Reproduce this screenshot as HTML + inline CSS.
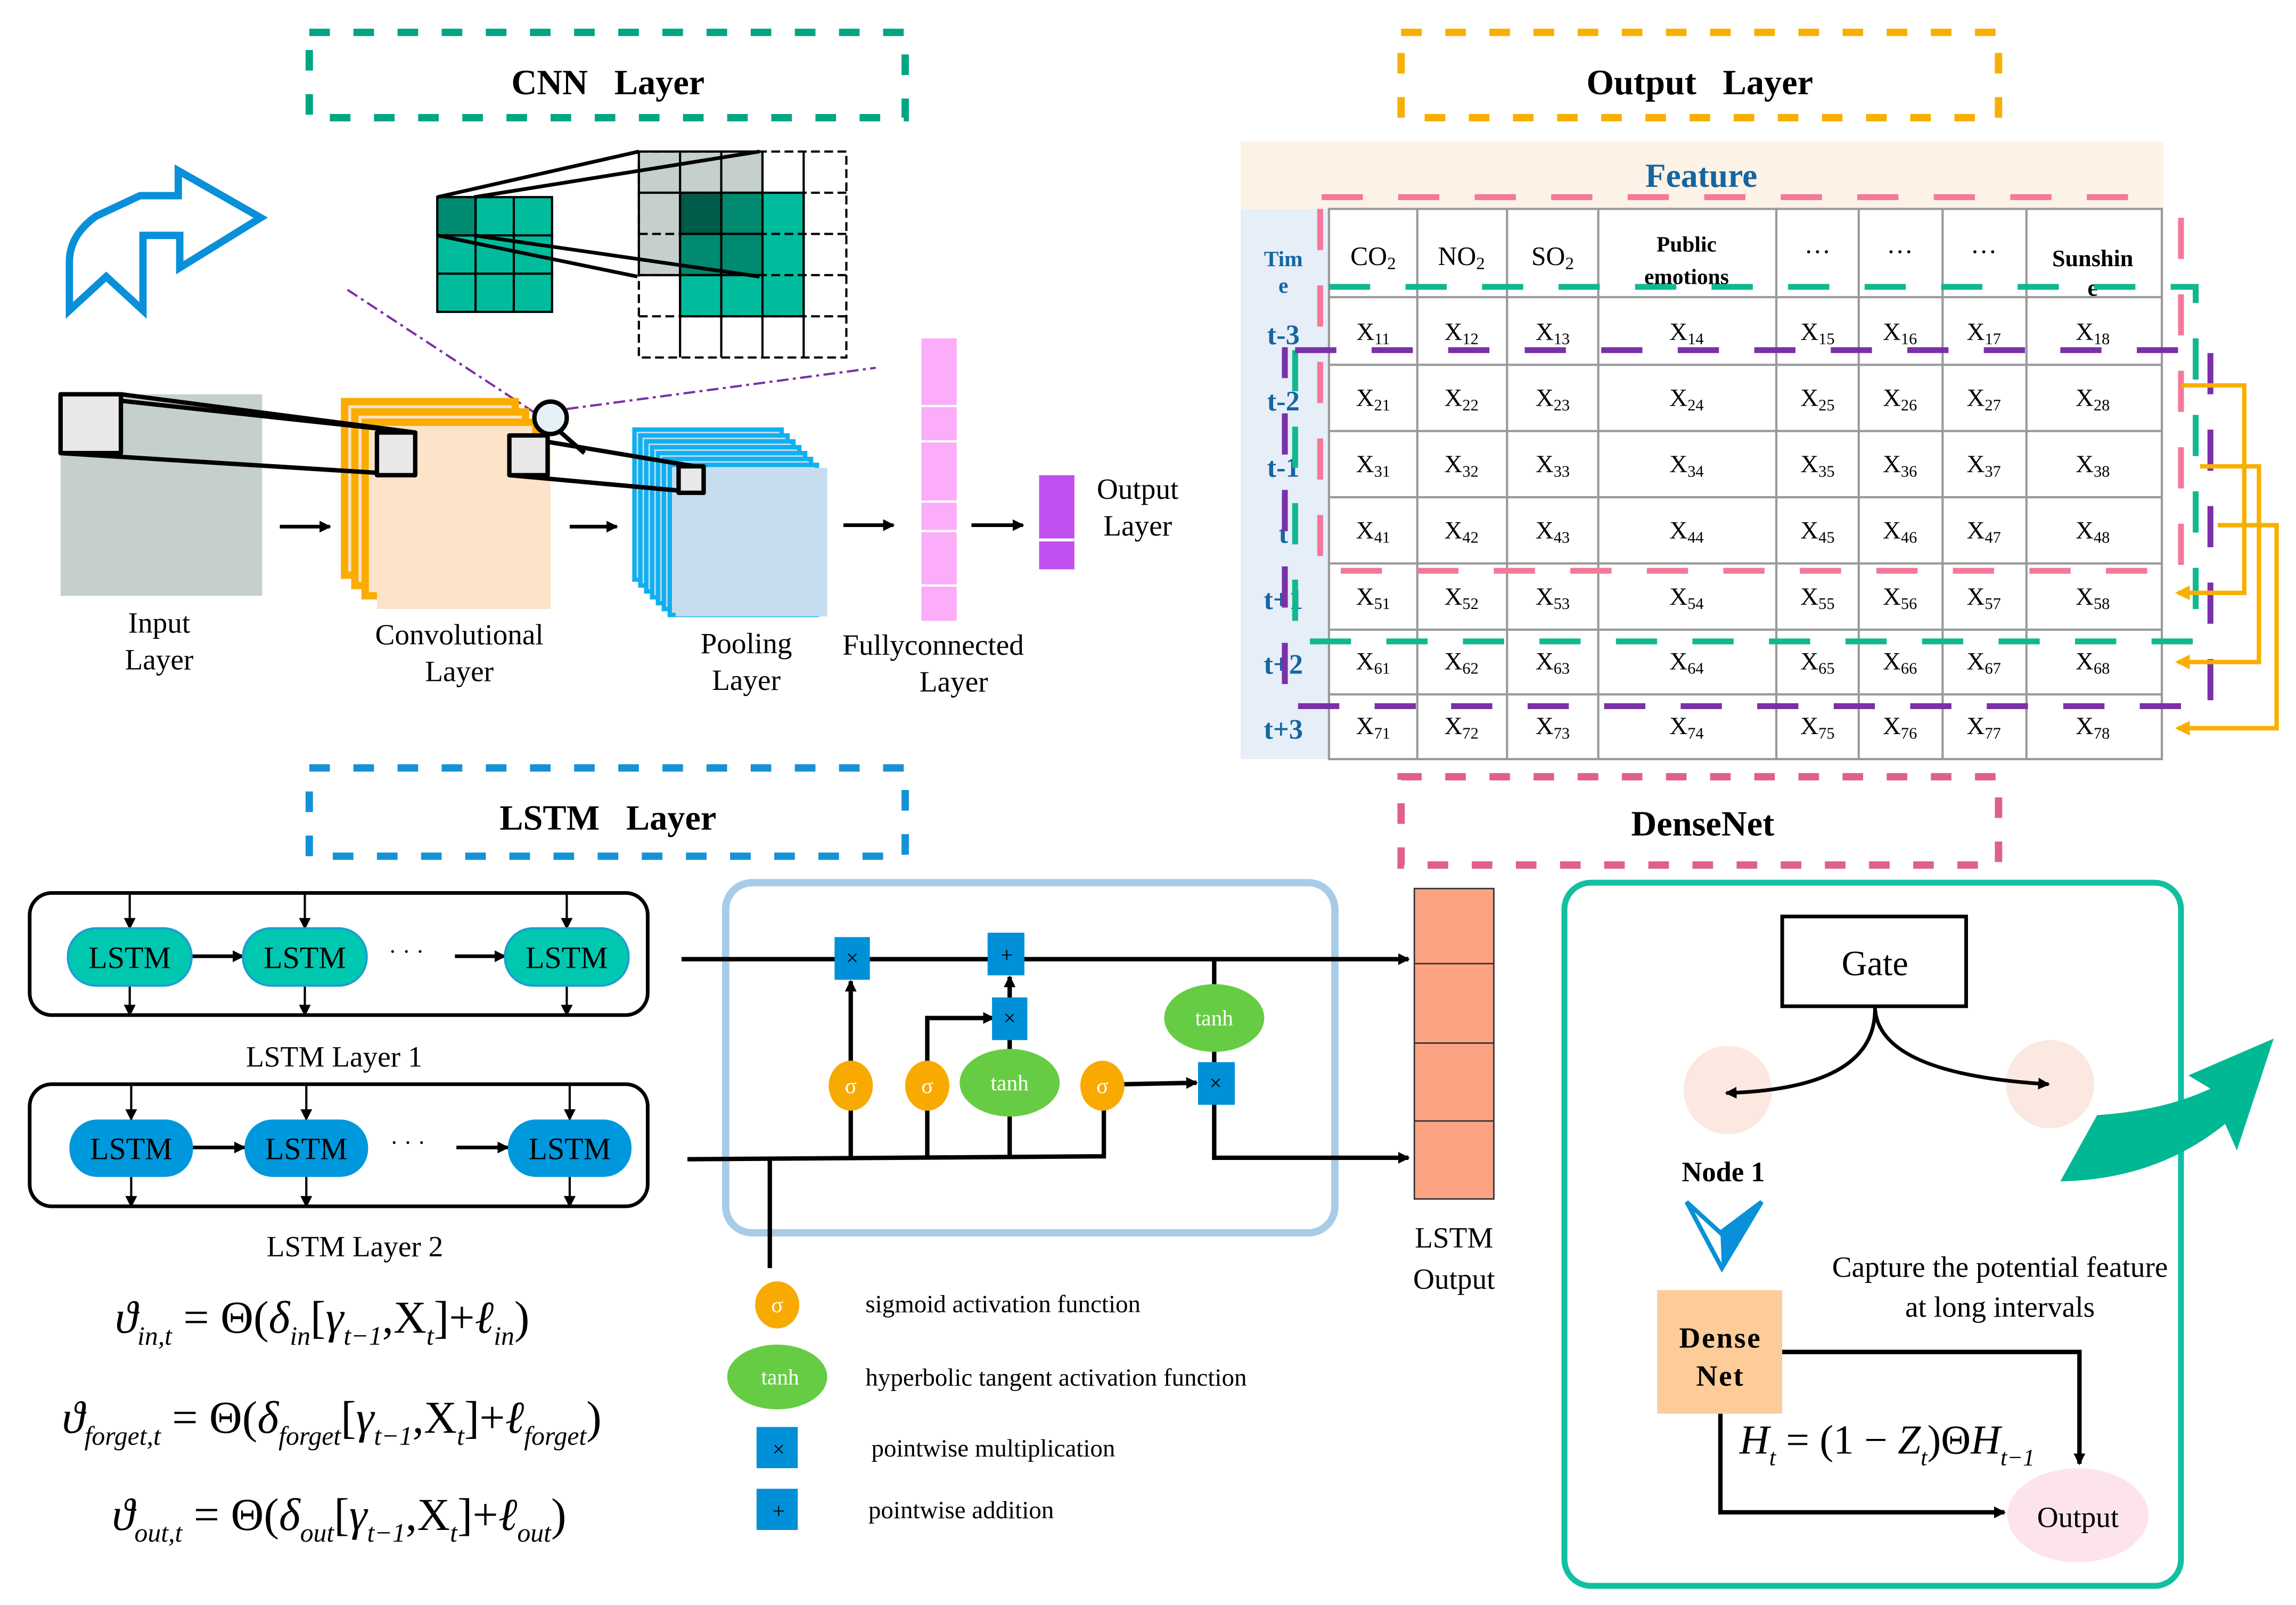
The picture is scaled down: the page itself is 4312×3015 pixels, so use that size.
<!DOCTYPE html>
<html><head><meta charset="utf-8"><style>html,body{margin:0;padding:0;background:#fff}svg{display:block}</style></head>
<body>
<svg xmlns="http://www.w3.org/2000/svg" width="4312" height="3015" viewBox="0 0 1560 1091" font-family="Liberation Serif, serif">
<defs>
<marker id="ar" markerWidth="8" markerHeight="8" refX="7" refY="4" orient="auto" markerUnits="userSpaceOnUse"><path d="M0,0 L8,4 L0,8 Z" fill="#000"/></marker>
<marker id="ao" markerWidth="10" markerHeight="10" refX="8" refY="5" orient="auto" markerUnits="userSpaceOnUse"><path d="M0,0 L10,5 L0,10 Z" fill="#f8b000"/></marker>
</defs>
<rect width="1560" height="1091" fill="#fff"/>

<g fill="none" stroke-width="5" stroke-dasharray="14,16">
<rect x="210" y="22" width="405" height="58" stroke="#00a584"/>
<rect x="952" y="22" width="406" height="58" stroke="#f8b000"/>
<rect x="210" y="522" width="405" height="60" stroke="#1592d6"/>
<rect x="952" y="528" width="406" height="60" stroke="#e0608c"/>
</g>
<g font-weight="bold" font-size="24" text-anchor="middle">
<text x="413" y="64" xml:space="preserve">CNN   Layer</text>
<text x="1155" y="64" xml:space="preserve">Output   Layer</text>
<text x="413" y="564" xml:space="preserve">LSTM   Layer</text>
<text x="1157" y="568">DenseNet</text>
</g>

<rect x="843" y="96" width="627" height="46" fill="#fdf2e6"/>
<rect x="843" y="142" width="60" height="374" fill="#e6eef8"/>
<text x="1156" y="127" font-size="23" font-weight="bold" fill="#1565a0" text-anchor="middle">Feature</text>
<g stroke="#999" stroke-width="1.5" fill="none">
<rect x="903" y="142" width="566" height="374"/>
<path d="M963,142V516M1024,142V516M1086,142V516M1207,142V516M1263,142V516M1320,142V516M1377,142V516"/>
<path d="M903,202H1469M903,248H1469M903,293H1469M903,338H1469M903,383H1469M903,428H1469M903,472H1469"/>
</g>
<g font-size="18" text-anchor="middle">
<text x="933" y="180">CO<tspan font-size="12" dy="3">2</tspan></text>
<text x="993" y="180">NO<tspan font-size="12" dy="3">2</tspan></text>
<text x="1055" y="180">SO<tspan font-size="12" dy="3">2</tspan></text>
<text x="1146" y="171" font-weight="bold" font-size="15">Public</text>
<text x="1146" y="193" font-weight="bold" font-size="15">emotions</text>
<text x="1235" y="172">…</text><text x="1291" y="172">…</text><text x="1348" y="172">…</text>
<text x="1422" y="181" font-weight="bold" font-size="16">Sunshin</text>
<text x="1422" y="201" font-weight="bold" font-size="16">e</text>
</g>
<g font-size="15" font-weight="bold" fill="#1565a0" text-anchor="middle">
<text x="872" y="181">Tim</text><text x="872" y="199">e</text>
</g>
<g font-size="19" font-weight="bold" fill="#1565a0" text-anchor="middle">
<text x="872" y="234">t-3</text><text x="872" y="279">t-2</text><text x="872" y="324">t-1</text><text x="872" y="369">t</text>
<text x="872" y="414">t+1</text><text x="872" y="458">t+2</text><text x="872" y="502">t+3</text>
</g>
<g font-size="17" text-anchor="middle">
<text x="933" y="231">X<tspan font-size="11" dy="3">11</tspan></text><text x="993" y="231">X<tspan font-size="11" dy="3">12</tspan></text><text x="1055" y="231">X<tspan font-size="11" dy="3">13</tspan></text><text x="1146" y="231">X<tspan font-size="11" dy="3">14</tspan></text><text x="1235" y="231">X<tspan font-size="11" dy="3">15</tspan></text><text x="1291" y="231">X<tspan font-size="11" dy="3">16</tspan></text><text x="1348" y="231">X<tspan font-size="11" dy="3">17</tspan></text><text x="1422" y="231">X<tspan font-size="11" dy="3">18</tspan></text>
<text x="933" y="276">X<tspan font-size="11" dy="3">21</tspan></text><text x="993" y="276">X<tspan font-size="11" dy="3">22</tspan></text><text x="1055" y="276">X<tspan font-size="11" dy="3">23</tspan></text><text x="1146" y="276">X<tspan font-size="11" dy="3">24</tspan></text><text x="1235" y="276">X<tspan font-size="11" dy="3">25</tspan></text><text x="1291" y="276">X<tspan font-size="11" dy="3">26</tspan></text><text x="1348" y="276">X<tspan font-size="11" dy="3">27</tspan></text><text x="1422" y="276">X<tspan font-size="11" dy="3">28</tspan></text>
<text x="933" y="321">X<tspan font-size="11" dy="3">31</tspan></text><text x="993" y="321">X<tspan font-size="11" dy="3">32</tspan></text><text x="1055" y="321">X<tspan font-size="11" dy="3">33</tspan></text><text x="1146" y="321">X<tspan font-size="11" dy="3">34</tspan></text><text x="1235" y="321">X<tspan font-size="11" dy="3">35</tspan></text><text x="1291" y="321">X<tspan font-size="11" dy="3">36</tspan></text><text x="1348" y="321">X<tspan font-size="11" dy="3">37</tspan></text><text x="1422" y="321">X<tspan font-size="11" dy="3">38</tspan></text>
<text x="933" y="366">X<tspan font-size="11" dy="3">41</tspan></text><text x="993" y="366">X<tspan font-size="11" dy="3">42</tspan></text><text x="1055" y="366">X<tspan font-size="11" dy="3">43</tspan></text><text x="1146" y="366">X<tspan font-size="11" dy="3">44</tspan></text><text x="1235" y="366">X<tspan font-size="11" dy="3">45</tspan></text><text x="1291" y="366">X<tspan font-size="11" dy="3">46</tspan></text><text x="1348" y="366">X<tspan font-size="11" dy="3">47</tspan></text><text x="1422" y="366">X<tspan font-size="11" dy="3">48</tspan></text>
<text x="933" y="411">X<tspan font-size="11" dy="3">51</tspan></text><text x="993" y="411">X<tspan font-size="11" dy="3">52</tspan></text><text x="1055" y="411">X<tspan font-size="11" dy="3">53</tspan></text><text x="1146" y="411">X<tspan font-size="11" dy="3">54</tspan></text><text x="1235" y="411">X<tspan font-size="11" dy="3">55</tspan></text><text x="1291" y="411">X<tspan font-size="11" dy="3">56</tspan></text><text x="1348" y="411">X<tspan font-size="11" dy="3">57</tspan></text><text x="1422" y="411">X<tspan font-size="11" dy="3">58</tspan></text>
<text x="933" y="455">X<tspan font-size="11" dy="3">61</tspan></text><text x="993" y="455">X<tspan font-size="11" dy="3">62</tspan></text><text x="1055" y="455">X<tspan font-size="11" dy="3">63</tspan></text><text x="1146" y="455">X<tspan font-size="11" dy="3">64</tspan></text><text x="1235" y="455">X<tspan font-size="11" dy="3">65</tspan></text><text x="1291" y="455">X<tspan font-size="11" dy="3">66</tspan></text><text x="1348" y="455">X<tspan font-size="11" dy="3">67</tspan></text><text x="1422" y="455">X<tspan font-size="11" dy="3">68</tspan></text>
<text x="933" y="499">X<tspan font-size="11" dy="3">71</tspan></text><text x="993" y="499">X<tspan font-size="11" dy="3">72</tspan></text><text x="1055" y="499">X<tspan font-size="11" dy="3">73</tspan></text><text x="1146" y="499">X<tspan font-size="11" dy="3">74</tspan></text><text x="1235" y="499">X<tspan font-size="11" dy="3">75</tspan></text><text x="1291" y="499">X<tspan font-size="11" dy="3">76</tspan></text><text x="1348" y="499">X<tspan font-size="11" dy="3">77</tspan></text><text x="1422" y="499">X<tspan font-size="11" dy="3">78</tspan></text>
</g>
<g fill="none" stroke-width="4" stroke-dasharray="28,24">
<path d="M898,134H1470M897,142V388H1482M1482,148V388" stroke="#f4789a"/>
<path d="M903,195H1492V436H880V220" stroke="#10b890"/>
<path d="M880,238H1502V480H873V236" stroke="#7a30a8"/>
</g>
<g fill="none" stroke="#f8b000" stroke-width="3">
<path d="M1482,262H1525V403H1480" marker-end="url(#ao)"/>
<path d="M1495,317H1535V450H1480" marker-end="url(#ao)"/>
<path d="M1507,357H1547V495H1480" marker-end="url(#ao)"/>
</g>

<path d="M121,116 L177,148 L122,182 L122,160 L97,160 L97,211 L72,188 L47,211 L47,178 Q47,160 65,147 L95,133 L121,133 Z" fill="none" stroke="#0a90d8" stroke-width="5" stroke-linejoin="miter"/>

<g stroke="#000" stroke-width="1.5">
<rect x="434" y="103" width="84" height="28" fill="#c5d0ce"/>
<rect x="434" y="131" width="28" height="56" fill="#c5d0ce"/>
<rect x="462" y="131" width="84" height="84" fill="#00bc9c"/>
<rect x="462" y="131" width="28" height="28" fill="#005c4a"/>
<rect x="490" y="131" width="28" height="28" fill="#008a70"/>
<rect x="462" y="159" width="56" height="28" fill="#008a70"/>
</g>
<g stroke="#000" stroke-width="1.5" fill="none" stroke-dasharray="6,3">
<rect x="434" y="103" width="141" height="140"/>
<path d="M434,131H575M434,159H575M434,187H575M434,215H575"/>
</g>
<path d="M462,103V243M490,103V243M518,103V243M546,103V243" stroke="#000" stroke-width="1.5"/>
<g stroke="#000" stroke-width="1.5">
<rect x="297" y="134" width="78" height="78" fill="#00bc9c"/>
<rect x="297" y="134" width="26" height="26" fill="#008a70"/>
<path d="M323,134V212M349,134V212M297,160H375M297,186H375" fill="none"/>
</g>
<g stroke="#000" stroke-width="2.5">
<line x1="297" y1="134" x2="434" y2="103"/><line x1="322" y1="134" x2="516" y2="103"/>
<line x1="297" y1="160" x2="433" y2="188"/><line x1="322" y1="160" x2="516" y2="188"/>
</g>
<g stroke="#7a30a8" stroke-width="1.5" stroke-dasharray="8,3,2,3" fill="none">
<line x1="236" y1="197" x2="370" y2="285"/><line x1="385" y1="278" x2="595" y2="250"/>
</g>

<rect x="41" y="268" width="137" height="137" fill="#c5d0ce"/>
<g stroke="#fbac00" stroke-width="5" fill="#fde3c8">
<rect x="234" y="273" width="116" height="118"/>
<rect x="241" y="280" width="116" height="118"/>
<rect x="248" y="287" width="116" height="118"/>
</g>
<rect x="256" y="296" width="118" height="118" fill="#fde3c8"/>
<g stroke="#10b0f0" stroke-width="3" fill="#c6ddf0">
<rect x="431" y="292" width="100" height="102"/>
<rect x="435" y="296" width="100" height="102"/>
<rect x="439" y="300" width="100" height="102"/>
<rect x="443" y="304" width="100" height="102"/>
<rect x="447" y="308" width="100" height="102"/>
<rect x="451" y="312" width="100" height="102"/>
<rect x="455" y="316" width="100" height="102"/>
</g>
<rect x="459" y="318" width="103" height="101" fill="#c6ddf0"/>
<g stroke="#000" stroke-width="3" fill="#e8e8e8" stroke-linejoin="round">
<polygon points="41,268 282,294 282,323 41,308" fill="none"/>
<rect x="41" y="268" width="41" height="40"/>
<rect x="256" y="294" width="26" height="29"/>
<line x1="82" y1="268" x2="282" y2="294"/>
<polygon points="346,296 478,318 478,335 346,323" fill="none"/>
<rect x="346" y="296" width="26" height="27"/>
<rect x="461" y="317" width="17" height="18"/>
</g>
<circle cx="374" cy="284" r="11" fill="#e4f2f8" stroke="#000" stroke-width="3"/>
<line x1="381" y1="294" x2="397" y2="308" stroke="#000" stroke-width="3"/>
<g stroke="#000" stroke-width="2.5" marker-end="url(#ar)">
<line x1="190" y1="358" x2="224" y2="358"/><line x1="387" y1="358" x2="419" y2="358"/>
<line x1="573" y1="357" x2="607" y2="357"/><line x1="660" y1="357" x2="695" y2="357"/>
</g>
<rect x="626" y="230" width="24" height="192" fill="#fbadf9"/>
<g stroke="#fff" stroke-width="1.5"><path d="M626,276H650M626,300H650M626,341H650M626,361H650M626,398H650"/></g>
<rect x="706" y="323" width="24" height="64" fill="#c050f0"/>
<line x1="706" y1="367" x2="730" y2="367" stroke="#fff" stroke-width="2"/>
<g font-size="20" text-anchor="middle">
<text x="108" y="430">Input</text><text x="108" y="455">Layer</text>
<text x="312" y="438">Convolutional</text><text x="312" y="463">Layer</text>
<text x="507" y="444">Pooling</text><text x="507" y="469">Layer</text>
<text x="634" y="445">Fullyconnected</text><text x="648" y="470">Layer</text>
<text x="773" y="339">Output</text><text x="773" y="364">Layer</text>
</g>

<g fill="none" stroke="#000" stroke-width="2.5">
<rect x="20" y="607" width="420" height="83" rx="15"/>
<rect x="20" y="737" width="420" height="83" rx="15"/>
</g>
<g stroke="#000" stroke-width="1.5" marker-end="url(#ar)">
<line x1="88" y1="607" x2="88" y2="631"/><line x1="207" y1="607" x2="207" y2="631"/><line x1="385" y1="607" x2="385" y2="631"/>
<line x1="88" y1="670" x2="88" y2="690"/><line x1="207" y1="670" x2="207" y2="690"/><line x1="385" y1="670" x2="385" y2="690"/>
<line x1="89" y1="737" x2="89" y2="761"/><line x1="208" y1="737" x2="208" y2="761"/><line x1="387" y1="737" x2="387" y2="761"/>
<line x1="89" y1="800" x2="89" y2="820"/><line x1="208" y1="800" x2="208" y2="820"/><line x1="387" y1="800" x2="387" y2="820"/>
</g>
<g stroke="#000" stroke-width="2.5" marker-end="url(#ar)">
<line x1="130" y1="650" x2="165" y2="650"/><line x1="309" y1="650" x2="343" y2="650"/>
<line x1="131" y1="780" x2="166" y2="780"/><line x1="310" y1="780" x2="345" y2="780"/>
</g>
<g stroke="#1aa0d0" stroke-width="1.5" fill="#00c8b0">
<rect x="46" y="631" width="84" height="39" rx="19"/><rect x="165" y="631" width="84" height="39" rx="19"/><rect x="343" y="631" width="84" height="39" rx="19"/>
</g>
<g fill="#0098dc">
<rect x="47" y="761" width="84" height="39" rx="19"/><rect x="166" y="761" width="84" height="39" rx="19"/><rect x="345" y="761" width="84" height="39" rx="19"/>
</g>
<g font-size="21" text-anchor="middle">
<text x="88" y="658">LSTM</text><text x="207" y="658">LSTM</text><text x="385" y="658">LSTM</text>
<text x="89" y="788">LSTM</text><text x="208" y="788">LSTM</text><text x="387" y="788">LSTM</text>
<text x="276" y="652" font-size="16">· · ·</text><text x="277" y="782" font-size="16">· · ·</text>
</g>
<g font-size="20" text-anchor="middle">
<text x="227" y="725">LSTM Layer 1</text><text x="241" y="854">LSTM Layer 2</text>
</g>
<g font-size="31" font-style="italic">
<text x="78" y="906">ϑ<tspan font-size="18" dy="8">in,t</tspan><tspan dy="-8" font-style="normal"> = Θ(</tspan>δ<tspan font-size="18" dy="8">in</tspan><tspan dy="-8" font-style="normal">[</tspan>γ<tspan font-size="18" dy="8">t−1</tspan><tspan dy="-8" font-style="normal">,X</tspan><tspan font-size="18" dy="8">t</tspan><tspan dy="-8" font-style="normal">]+</tspan>ℓ<tspan font-size="18" dy="8">in</tspan><tspan dy="-8" font-style="normal">)</tspan></text>
<text x="42" y="974">ϑ<tspan font-size="18" dy="8">forget,t</tspan><tspan dy="-8" font-style="normal"> = Θ(</tspan>δ<tspan font-size="18" dy="8">forget</tspan><tspan dy="-8" font-style="normal">[</tspan>γ<tspan font-size="18" dy="8">t−1</tspan><tspan dy="-8" font-style="normal">,X</tspan><tspan font-size="18" dy="8">t</tspan><tspan dy="-8" font-style="normal">]+</tspan>ℓ<tspan font-size="18" dy="8">forget</tspan><tspan dy="-8" font-style="normal">)</tspan></text>
<text x="76" y="1040">ϑ<tspan font-size="18" dy="8">out,t</tspan><tspan dy="-8" font-style="normal"> = Θ(</tspan>δ<tspan font-size="18" dy="8">out</tspan><tspan dy="-8" font-style="normal">[</tspan>γ<tspan font-size="18" dy="8">t−1</tspan><tspan dy="-8" font-style="normal">,X</tspan><tspan font-size="18" dy="8">t</tspan><tspan dy="-8" font-style="normal">]+</tspan>ℓ<tspan font-size="18" dy="8">out</tspan><tspan dy="-8" font-style="normal">)</tspan></text>
</g>

<rect x="493" y="600" width="414" height="238" rx="18" fill="none" stroke="#a8cce8" stroke-width="5"/>
<g stroke="#000" stroke-width="3" fill="none">
<line x1="463" y1="652" x2="957" y2="652" marker-end="url(#ar)"/>
<path d="M467,788 L750,786 L750,752"/>
<line x1="523" y1="788" x2="523" y2="862"/>
<path d="M825,652 V722 M825,750 V787 H957" marker-end="url(#ar)"/>
<line x1="578" y1="786" x2="578" y2="667" marker-end="url(#ar)"/>
<path d="M630,786 V692 H675" marker-end="url(#ar)"/>
<line x1="686" y1="786" x2="686" y2="705"/>
<line x1="686" y1="680" x2="686" y2="664" marker-end="url(#ar)"/>
<line x1="763" y1="737" x2="813" y2="736" marker-end="url(#ar)"/>
</g>
<g fill="#0090d8">
<rect x="567" y="637" width="24" height="29"/><rect x="671" y="634" width="25" height="29"/>
<rect x="674" y="678" width="24" height="29"/><rect x="814" y="722" width="25" height="29"/>
</g>
<g fill="#f8aa00"><ellipse cx="578" cy="738" rx="15" ry="17"/><ellipse cx="630" cy="738" rx="15" ry="17"/><ellipse cx="749" cy="738" rx="15" ry="17"/></g>
<g fill="#66cc44"><ellipse cx="686" cy="736" rx="34" ry="23"/><ellipse cx="825" cy="692" rx="34" ry="23"/></g>
<g font-size="15" fill="#fff" text-anchor="middle">
<text x="579" y="656" fill="#000">×</text><text x="684" y="654" fill="#000">+</text><text x="686" y="697" fill="#000">×</text><text x="826" y="741" fill="#000">×</text>
<text x="578" y="743">σ</text><text x="630" y="743">σ</text><text x="749" y="743">σ</text>
<text x="686" y="741">tanh</text><text x="825" y="697">tanh</text>
</g>
<ellipse cx="528" cy="887" rx="15" ry="16" fill="#f8aa00"/>
<ellipse cx="528" cy="936" rx="34" ry="22" fill="#66cc44"/>
<rect x="514" y="970" width="28" height="28" fill="#0090d8"/>
<rect x="514" y="1012" width="28" height="28" fill="#0090d8"/>
<g font-size="15" text-anchor="middle">
<text x="528" y="892" fill="#fff">σ</text><text x="530" y="941" fill="#fff">tanh</text>
<text x="529" y="990">×</text><text x="529" y="1032">+</text>
</g>
<g font-size="17">
<text x="588" y="892">sigmoid activation function</text>
<text x="588" y="942">hyperbolic tangent activation function</text>
<text x="592" y="990">pointwise multiplication</text>
<text x="590" y="1032">pointwise addition</text>
</g>
<rect x="961" y="604" width="54" height="211" fill="#fca384" stroke="#333" stroke-width="1"/>
<path d="M961,655H1015M961,709H1015M961,762H1015" stroke="#333" stroke-width="1"/>
<g font-size="20" text-anchor="middle"><text x="988" y="848">LSTM</text><text x="988" y="876">Output</text></g>

<rect x="1063" y="600" width="419" height="478" rx="18" fill="none" stroke="#10c0a0" stroke-width="4"/>
<rect x="1211" y="623" width="125" height="61" fill="#fff" stroke="#000" stroke-width="2.5"/>
<text x="1274" y="663" font-size="24" text-anchor="middle">Gate</text>
<circle cx="1174" cy="741" r="30" fill="#fbe8e0"/>
<circle cx="1393" cy="737" r="30" fill="#fbe8e0"/>
<g stroke="#000" stroke-width="2.5" fill="none">
<path d="M1274,684 Q1276,740 1173,743" marker-end="url(#ar)"/>
<path d="M1274,684 Q1275,730 1392,737" marker-end="url(#ar)"/>
</g>
<text x="1171" y="803" font-size="19" font-weight="bold" text-anchor="middle">Node 1</text>
<path d="M1146,817 L1170,862 L1197,817 L1169,838 Z" fill="#fff" stroke="#0a90d8" stroke-width="3" stroke-linejoin="miter"/>
<path d="M1169,838 L1197,817 L1170,862 Z" fill="#0a90d8"/>
<rect x="1126" y="877" width="85" height="84" fill="#fdcc98"/>
<g font-size="20" font-weight="bold" text-anchor="middle" letter-spacing="1"><text x="1169" y="916">Dense</text><text x="1169" y="942">Net</text></g>
<g font-size="20" text-anchor="middle"><text x="1359" y="868">Capture the potential feature</text><text x="1359" y="895">at long intervals</text></g>
<ellipse cx="1412" cy="1030" rx="48" ry="32" fill="#fde4ec"/>
<text x="1412" y="1038" font-size="20" text-anchor="middle">Output</text>
<g stroke="#000" stroke-width="3" fill="none">
<path d="M1211,919 H1413 V995" marker-end="url(#ar)"/>
<path d="M1169,961 V1028 H1362" marker-end="url(#ar)"/>
</g>
<text x="1182" y="988" font-size="28" font-style="italic">H<tspan font-size="16" dy="8">t</tspan><tspan dy="-8" font-style="normal"> = (1 − </tspan>Z<tspan font-size="16" dy="8">t</tspan><tspan dy="-8" font-style="normal">)Θ</tspan>H<tspan font-size="16" dy="8">t−1</tspan></text>
<path d="M1400,803 L1425,758 Q1470,755 1502,740 L1487,731 L1545,706 L1520,782 L1512,764 Q1465,802 1400,803 Z" fill="#00b894"/>
</svg>
</body></html>
